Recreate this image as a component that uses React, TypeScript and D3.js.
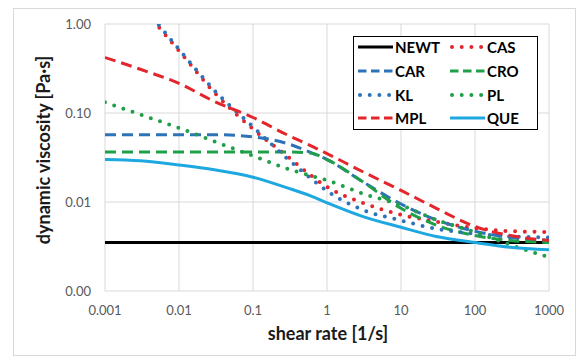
import React from "react";
import * as d3 from "d3";

// Shear rates at which each model curve is sampled [1/s]
const shearRate = [0.001, 0.003, 0.01, 0.03, 0.1, 0.3, 0.6, 1, 3, 10, 30, 100, 300, 1000];

// Dynamic viscosity of each model [Pa·s]
const newtValues = [0.0035, 0.0035, 0.0035, 0.0035, 0.0035, 0.0035, 0.0035, 0.0035, 0.0035, 0.0035, 0.0035, 0.0035, 0.0035, 0.0035];
const casValues = [null, 1.6, 0.5, 0.17, 0.066, 0.032, 0.02, 0.0148, 0.0098, 0.0072, 0.006, 0.0051, 0.0047, 0.0046];
const carValues = [0.057, 0.057, 0.057, 0.057, 0.054, 0.045, 0.036, 0.03, 0.017, 0.0095, 0.0063, 0.0047, 0.004, 0.0037];
const croValues = [0.0365, 0.0365, 0.0365, 0.0365, 0.0365, 0.0365, 0.0355, 0.03, 0.017, 0.0085, 0.0055, 0.0042, 0.0037, 0.0035];
const klValues = [null, 1.75, 0.52, 0.18, 0.07, 0.03, 0.0185, 0.0133, 0.0082, 0.0062, 0.005, 0.0044, 0.0041, 0.004];
const plValues = [0.132, 0.096, 0.068, 0.048, 0.033, 0.0235, 0.0198, 0.0175, 0.0125, 0.0092, 0.0063, 0.0046, 0.0033, 0.0024];
const mplValues = [0.42, 0.31, 0.215, 0.135, 0.089, 0.056, 0.043, 0.035, 0.022, 0.0135, 0.0085, 0.0053, 0.0042, 0.0037];
const queValues = [0.03, 0.029, 0.026, 0.023, 0.019, 0.0143, 0.0117, 0.0098, 0.0069, 0.0052, 0.0041, 0.0035, 0.0031, 0.0029];

const seriesNames = ["NEWT", "CAS", "CAR", "CRO", "KL", "PL", "MPL", "QUE"];
const seriesValues = [newtValues, casValues, carValues, croValues, klValues, plValues, mplValues, queValues];

const xTicks = [0.001, 0.01, 0.1, 1, 10, 100, 1000];
const xTickLabels = ["0.001", "0.01", "0.1", "1", "10", "100", "1000"];
const yTicks = [0.001, 0.01, 0.1, 1];
const yTickLabels = ["0.00", "0.01", "0.10", "1.00"];

const RED = "#E3262B";
const BLUE = "#2E72B8";
const GREEN = "#1F9F48";
const LIGHT_BLUE = "#1EA8E0";

type Style = { color: string; dash: string; legendDash: string; width: number; cap: "round" | "butt" };
const DOT: Omit<Style, "color"> = { dash: "0 9.7", legendDash: "0 9.7", width: 4, cap: "round" };
const DASH: Omit<Style, "color"> = { dash: "11 6", legendDash: "8.5 4.5", width: 3, cap: "butt" };
const SOLID: Omit<Style, "color"> = { dash: "none", legendDash: "none", width: 3, cap: "butt" };

const styles: Record<string, Style> = {
  NEWT: { color: "#000000", ...SOLID },
  CAS: { color: RED, ...DOT },
  CAR: { color: BLUE, ...DASH },
  CRO: { color: GREEN, ...DASH },
  KL: { color: BLUE, ...DOT },
  PL: { color: GREEN, ...DOT },
  MPL: { color: RED, ...DASH },
  QUE: { color: LIGHT_BLUE, ...SOLID },
};

const W = 579;
const H = 358;
const plot = { left: 105, right: 549, top: 24, bottom: 291 };
const FONT = "Lato, 'Open Sans', sans-serif";

export default function App() {
  const x = d3.scaleLog().domain([0.001, 1000]).range([plot.left, plot.right]);
  const y = d3.scaleLog().domain([0.001, 1]).range([plot.bottom, plot.top]);

  const line = d3
    .line<[number, number | null]>()
    .defined((d) => d[1] != null)
    .x((d) => x(d[0]))
    .y((d) => y(d[1] as number))
    .curve(d3.curveMonotoneX);

  const legendRows = [47, 71, 95, 118];
  const legendCols = [358, 450];

  return (
    <svg
      width={W}
      height={H}
      style={{ position: "absolute", left: 0, top: 0, background: "#fff" }}
      fontFamily={FONT}
    >
      <defs>
        <clipPath id="plot-clip">
          <rect x={plot.left} y={plot.top} width={plot.right - plot.left} height={plot.bottom - plot.top} />
        </clipPath>
      </defs>

      {/* chart frame */}
      <rect x={13.5} y={8.5} width={562} height={347} fill="#fff" stroke="#D9D9D9" strokeWidth={1} />

      {/* gridlines */}
      {xTicks.map((t) => (
        <line key={"gx" + t} x1={x(t)} x2={x(t)} y1={plot.top} y2={plot.bottom} stroke="#D9D9D9" strokeWidth={1} />
      ))}
      {yTicks.map((t) => (
        <line key={"gy" + t} x1={plot.left} x2={plot.right} y1={y(t)} y2={y(t)} stroke="#D9D9D9" strokeWidth={1} />
      ))}

      {/* tick labels */}
      {yTicks.map((t, i) => (
        <text key={"ty" + t} x={91} y={y(t) + 4.5} textAnchor="end" fontSize={13} fill="#595959">
          {yTickLabels[i]}
        </text>
      ))}
      {xTicks.map((t, i) => (
        <text key={"tx" + t} x={x(t)} y={315} textAnchor="middle" fontSize={13} fill="#595959">
          {xTickLabels[i]}
        </text>
      ))}

      {/* axis titles */}
      <text x={328} y={340} textAnchor="middle" fontSize={18} fontWeight="bold" fill="#1a1a1a">
        shear rate [1/s]
      </text>
      <text
        transform="translate(50,150) rotate(-90)"
        textAnchor="middle"
        fontSize={18}
        fontWeight="bold"
        fill="#1a1a1a"
      >
        dynamic viscosity [Pa·s]
      </text>

      {/* model curves */}
      <g clipPath="url(#plot-clip)">
        {seriesNames.map((name, i) => {
          const s = styles[name];
          const pts = shearRate.map((r, j) => [r, seriesValues[i][j]] as [number, number | null]);
          return (
            <path
              key={name}
              d={line(pts) || ""}
              fill="none"
              stroke={s.color}
              strokeWidth={s.width}
              strokeDasharray={s.dash}
              strokeLinecap={s.cap}
            />
          );
        })}
      </g>

      {/* legend */}
      <rect x={353.5} y={36.5} width={184} height={93} fill="#fff" stroke="#000" strokeWidth={1} />
      {seriesNames.map((name, i) => {
        const s = styles[name];
        const cx = legendCols[i % 2];
        const cy = legendRows[Math.floor(i / 2)];
        return (
          <g key={"lg" + name}>
            <line
              x1={cx + (s.cap === "round" ? 2 : 0)}
              x2={cx + 35}
              y1={cy}
              y2={cy}
              stroke={s.color}
              strokeWidth={s.width}
              strokeDasharray={s.legendDash}
              strokeLinecap={s.cap}
            />
            <text x={cx + 37} y={cy + 5.5} fontSize={15} fontWeight="bold" fill="#000">
              {name}
            </text>
          </g>
        );
      })}
    </svg>
  );
}
